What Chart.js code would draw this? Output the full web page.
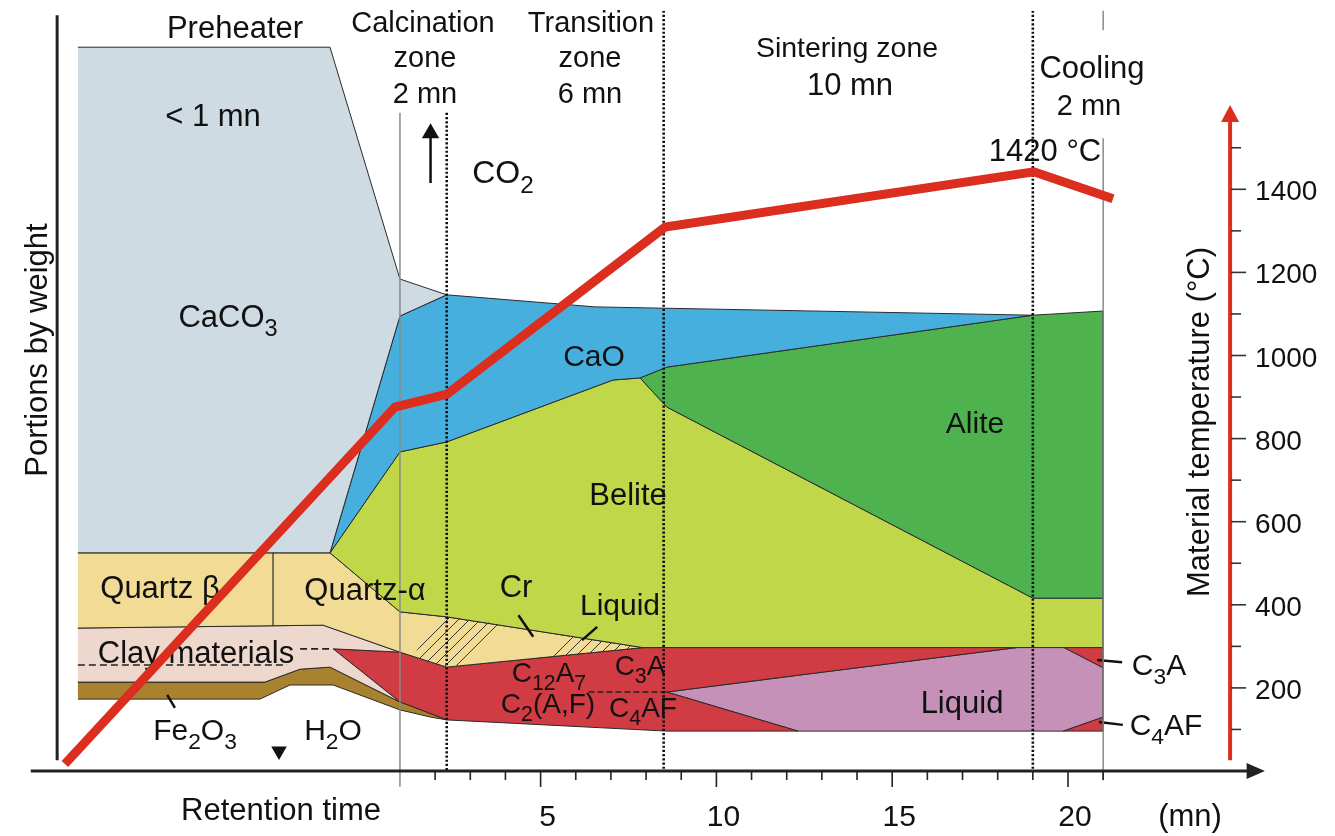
<!DOCTYPE html>
<html>
<head>
<meta charset="utf-8">
<script src="https://cdn.jsdelivr.net/npm/chart.js@4.4.0/dist/chart.umd.min.js"></script>
<style>
  html, body { margin: 0; padding: 0; background: #fff; }
</style>
</head>
<body>
<canvas id="myChart" width="1335" height="836"></canvas>
<script>
// time in minutes, vertical values in °C (areas use the same scale as the temperature axis)
var zoneLines = [2.33, 8.5, 19];
var zoneTops = [1584, 1830, 1830];
var timeTicks = [5, 10, 15, 20];
var tempTicks = [200, 400, 600, 800, 1000, 1200, 1400];

var tempTime = [-8.53, 0.86, 2.34, 8.54, 19.03, 21.28];
var tempValue = [17, 876, 907, 1309, 1442, 1377];

// phase areas, outline points [time, level]
var caco3 = [[-8.16, 1742], [-0.99, 1742], [1, 1184], [2.33, 1146], [1, 1095], [-0.99, 525], [-8.16, 525]];
var cao = [[-0.99, 525], [1, 1095], [2.33, 1146], [6.55, 1117], [19, 1097], [8.59, 972], [7.83, 946], [7.06, 941], [2.33, 792], [1, 768], [-0.99, 525]];
var alite = [[7.83, 946], [8.59, 972], [19, 1097], [21, 1107], [21, 416], [19, 416], [8.59, 876], [7.83, 946]];
var belite = [[-0.99, 525], [1, 768], [2.33, 792], [7.06, 941], [7.83, 946], [8.59, 876], [19, 416], [21, 416], [21, 297], [7.91, 297], [2.33, 371], [1, 383], [-0.99, 525]];
var quartz = [[-8.16, 525], [-0.99, 525], [1, 383], [2.33, 371], [7.91, 297], [2.33, 250], [1, 286], [-1.19, 351], [-8.16, 344]];
var clay = [[-8.16, 344], [-1.19, 351], [1, 286], [-0.9, 294], [1, 166], [-0.99, 250], [-1.84, 245], [-2.84, 214], [-8.16, 214]];
var fe2o3 = [[-8.16, 214], [-2.84, 214], [-1.84, 245], [-0.99, 250], [1, 166], [2.33, 123], [1.86, 130], [1, 147], [-0.9, 207], [-2.13, 207], [-2.98, 173], [-8.16, 173]];
var aluminates = [[-0.9, 294], [1, 286], [2.33, 250], [7.91, 297], [18.63, 298], [12.38, 231], [8.59, 190], [12.32, 96], [8.59, 96], [2.33, 123], [1, 166], [-0.9, 294]];
var liquid = [[8.59, 190], [12.38, 231], [18.63, 298], [19.86, 298], [21, 248], [21, 130], [19.86, 96], [12.32, 96], [8.59, 190]];
var c3aEnd = [[19.86, 298], [21, 297], [21, 248], [19.86, 298]];
var c4afEnd = [[19.86, 96], [21, 130], [21, 96], [19.86, 96]];
var crHatch1 = [[1.37, 277], [2.14, 373], [3.85, 354], [2.77, 255], [2.33, 250]];
var crHatch2 = [[5.27, 274], [5.84, 323], [7.91, 297]];

// thin lines
var quartzSplit = [[-2.61, 525], [-2.61, 349]];
var clayDash = [[-8.16, 255], [-2.21, 255]];
var clayDash2 = [[-1.84, 294], [-0.9, 294]];
var c12Dash = [[6.36, 190], [8.59, 190]];
var crLeader = [[4.37, 375], [4.79, 323]];
var liqLeader = [[6.61, 347], [6.18, 315]];
var c3aLeader = [[20.83, 267], [21.54, 262]];
var c4afLeader = [[20.88, 118], [21.56, 111]];
var feLeader = [[-5.62, 183], [-5.4, 152]];
var co2Shaft = [[1.87, 1415], [1.87, 1525]];
var co2Head = [[1.87, 1535]];
var h2oHead = [[-2.44, 48]];

function pts(arr) {
  return arr.map(function (p) { return p === null ? { x: null, y: null } : { x: p[0], y: p[1] }; });
}

function area(label, pairs, color) {
  return {
    label: label, data: pts(pairs), fill: "shape", backgroundColor: color,
    borderColor: "#2a2a2a", borderWidth: 1, pointRadius: 0, order: 5,
  };
}

function line(label, pairs, color, width, dash, order) {
  return {
    label: label, data: pts(pairs), fill: false, borderColor: color, borderWidth: width,
    borderDash: dash || [], pointRadius: 0, order: order || 3, borderCapStyle: "butt",
  };
}

function hatchPattern() {
  var c = document.createElement("canvas");
  c.width = 11; c.height = 11;
  var g = c.getContext("2d");
  g.strokeStyle = "#333"; g.lineWidth = 1;
  g.beginPath();
  g.moveTo(0, 11); g.lineTo(11, 0);
  g.moveTo(-2, 2); g.lineTo(2, -2);
  g.moveTo(9, 13); g.lineTo(13, 9);
  g.stroke();
  return g.createPattern(c, "repeat");
}

var datasets = [];
datasets.push({
  label: "Material temperature",
  data: tempTime.map(function (t, i) { return { x: t, y: tempValue[i] }; }),
  fill: false, borderColor: "#dc2e1f", borderWidth: 9, pointRadius: 0,
  borderJoinStyle: "miter", borderCapStyle: "butt", order: 0,
});

zoneLines.forEach(function (t, i) {
  datasets.push(line("zone", [[t, zoneTops[i]], [t, 0]], "#111", 2.6, [2.2, 2], 2));
});
datasets.push(Object.assign(line("start", [[1, 1584], [1, -38]], "#8a8a8a", 1.5, null, 2), { clip: false }));
datasets.push(Object.assign(line("end", [[21, 1830], [21, 1783], null, [21, 1523], [21, -22]], "#8a8a8a", 1.5, null, 2), { clip: false, spanGaps: false }));

datasets.push(line("quartz split", quartzSplit, "#2a2a2a", 1.2));
datasets.push(line("clay dash", clayDash, "#222", 1.6, [7, 4]));
datasets.push(line("clay dash 2", clayDash2, "#222", 1.6, [7, 4]));
datasets.push(line("c12 dash", c12Dash, "#222", 1.6, [6, 3]));
datasets.push(line("cr leader", crLeader, "#111", 2.5));
datasets.push(line("liquid leader", liqLeader, "#111", 2.5));
datasets.push(line("c3a leader", c3aLeader, "#111", 2.5));
datasets.push(line("c4af leader", c4afLeader, "#111", 2.5));
datasets.push(line("fe leader", feLeader, "#111", 2.5));
datasets.push(line("co2 shaft", co2Shaft, "#111", 2.5));
datasets.push({ label: "co2 head", data: pts(co2Head), showLine: false, pointStyle: "triangle", pointRadius: 10, pointBorderWidth: 0, pointBackgroundColor: "#111", order: 3 });
datasets.push({ label: "h2o head", data: pts(h2oHead), showLine: false, pointStyle: "triangle", pointRadius: 9, pointRotation: 180, pointBorderWidth: 0, pointBackgroundColor: "#111", order: 3 });

var pat = hatchPattern();
datasets.push({ label: "cr hatch", data: pts(crHatch1), fill: "shape", backgroundColor: pat, borderWidth: 0, pointRadius: 0, order: 4 });
datasets.push({ label: "liquid hatch", data: pts(crHatch2), fill: "shape", backgroundColor: pat, borderWidth: 0, pointRadius: 0, order: 4 });

datasets.push(area("CaCO3", caco3, "#cfdbe2"));
datasets.push(area("CaO", cao, "#47afde"));
datasets.push(area("Alite", alite, "#4eb34f"));
datasets.push(area("Belite", belite, "#c0d749"));
datasets.push(area("Quartz", quartz, "#f2dc95"));
datasets.push(area("Clay materials", clay, "#eed8cd"));
datasets.push(area("Fe2O3", fe2o3, "#a98230"));
datasets.push(area("Aluminates", aluminates, "#d13b44"));
datasets.push(area("Liquid", liquid, "#c691b8"));
datasets.push(area("C3A", c3aEnd, "#d13b44"));
datasets.push(area("C4AF", c4afEnd, "#d13b44"));

// texts: [parts, centre x, baseline, size]; part [text, subscript]
var notes = [
  [[["Preheater"]], 235, 38, 31],
  [[["< 1 mn"]], 213, 126, 31],
  [[["Calcination"]], 423, 32, 29],
  [[["zone"]], 425, 67, 29],
  [[["2 mn"]], 425, 103, 29],
  [[["Transition"]], 591, 32, 29],
  [[["zone"]], 590, 67, 29],
  [[["6 mn"]], 590, 103, 29],
  [[["Sintering zone"]], 847, 57, 28.5],
  [[["10 mn"]], 850, 95, 31],
  [[["Cooling"]], 1092, 78, 31],
  [[["2 mn"]], 1089, 115, 29],
  [[["1420 °C"]], 1045, 161, 31],
  [[["CO"], ["2", 1]], 503, 183, 32],
  [[["CaCO"], ["3", 1]], 228, 327, 31],
  [[["CaO"]], 594, 366, 30],
  [[["Belite"]], 628, 505, 31],
  [[["Alite"]], 975, 433, 30],
  [[["Quartz β"]], 160, 598, 31],
  [[["Quartz-α"]], 365, 600, 31],
  [[["Cr"]], 516, 597, 31],
  [[["Liquid"]], 620, 615, 30],
  [[["Clay materials"]], 196, 663, 31],
  [[["C"], ["12", 1], ["A"], ["7", 1]], 549, 682, 28],
  [[["C"], ["3", 1], ["A"]], 640, 675, 28],
  [[["C"], ["2", 1], ["(A,F)"]], 548, 713, 28],
  [[["C"], ["4", 1], ["AF"]], 643, 717, 28],
  [[["Liquid"]], 962, 713, 31],
  [[["C"], ["3", 1], ["A"]], 1159, 675, 30],
  [[["C"], ["4", 1], ["AF"]], 1166, 735, 30],
  [[["Fe"], ["2", 1], ["O"], ["3", 1]], 195, 740, 30],
  [[["H"], ["2", 1], ["O"]], 333, 740, 30],
  [[["Retention time"]], 281, 820, 31],
  [[["(mn)"]], 1190, 826, 31],
];

function fontOf(s) { return s + 'px "Liberation Sans", Arial, sans-serif'; }

function drawRich(ctx, parts, cx, base, size) {
  var w = 0;
  parts.forEach(function (p) {
    ctx.font = fontOf(p[1] ? size * 0.76 : size);
    w += ctx.measureText(p[0]).width;
  });
  var x = cx - w / 2;
  ctx.textAlign = "left";
  ctx.textBaseline = "alphabetic";
  parts.forEach(function (p) {
    ctx.font = fontOf(p[1] ? size * 0.76 : size);
    ctx.fillText(p[0], x, p[1] ? base + size * 0.3 : base);
    x += ctx.measureText(p[0]).width;
  });
}

var decor = {
  id: "decor",
  beforeDatasetDraw: function (chart, args) {
    if (chart.data.datasets[args.index].label !== "Material temperature") return;
    var ctx = chart.ctx;
    var xs = chart.scales.x, ys = chart.scales.y;
    var X = function (v) { return xs.getPixelForValue(v); };
    var Y = function (v) { return ys.getPixelForValue(v); };
    ctx.save();

    // portions axis
    ctx.strokeStyle = "#222";
    ctx.lineWidth = 3;
    ctx.beginPath();
    ctx.moveTo(X(-8.75), Y(1819));
    ctx.lineTo(X(-8.75), Y(26));
    ctx.stroke();

    // time axis
    var y0 = Y(0);
    ctx.beginPath();
    ctx.moveTo(X(-9.5), y0);
    ctx.lineTo(X(25.2), y0);
    ctx.stroke();
    ctx.fillStyle = "#222";
    ctx.beginPath();
    ctx.moveTo(X(25.6), y0);
    ctx.lineTo(X(25.08), y0 - 8);
    ctx.lineTo(X(25.08), y0 + 8);
    ctx.closePath();
    ctx.fill();
    ctx.lineWidth = 1.6;
    for (var m = 2; m <= 21; m++) {
      var major = timeTicks.indexOf(m) >= 0;
      ctx.beginPath();
      ctx.moveTo(X(m), y0);
      ctx.lineTo(X(m), y0 + (major ? 16 : 9));
      ctx.stroke();
    }
    ctx.fillStyle = "#111";
    timeTicks.forEach(function (m) {
      drawRich(ctx, [[String(m)]], X(m) + 7, 826, 30);
    });

    // temperature axis
    var ax = X(24.61);
    ctx.strokeStyle = "#dc2e1f";
    ctx.lineWidth = 4;
    ctx.beginPath();
    ctx.moveTo(ax, Y(26));
    ctx.lineTo(ax, Y(1564));
    ctx.stroke();
    ctx.fillStyle = "#dc2e1f";
    ctx.beginPath();
    ctx.moveTo(ax, Y(1603));
    ctx.lineTo(ax - 9, Y(1562));
    ctx.lineTo(ax + 9, Y(1562));
    ctx.closePath();
    ctx.fill();
    ctx.strokeStyle = "#333";
    ctx.lineWidth = 1.6;
    for (var t = 100; t <= 1500; t += 100) {
      var big = tempTicks.indexOf(t) >= 0;
      ctx.beginPath();
      ctx.moveTo(ax + 1, Y(t));
      ctx.lineTo(ax + (big ? 16 : 11), Y(t));
      ctx.stroke();
    }
    ctx.fillStyle = "#111";
    ctx.font = fontOf(28);
    ctx.textAlign = "left";
    tempTicks.forEach(function (t) {
      ctx.fillText(String(t), ax + 25, Y(t) + 11);
    });

    // axis titles
    ctx.save();
    ctx.translate(36, 350);
    ctx.rotate(-Math.PI / 2);
    drawRich(ctx, [["Portions by weight"]], 0, 11, 31);
    ctx.restore();
    ctx.save();
    ctx.translate(1198, 422);
    ctx.rotate(-Math.PI / 2);
    drawRich(ctx, [["Material temperature (°C)"]], 0, 11, 31);
    ctx.restore();

    notes.forEach(function (n) {
      drawRich(ctx, n[0], n[1], n[2], n[3]);
    });
    ctx.restore();
  },
};

var AREA_TOP = 771 - 1830 * 0.4155;

new Chart(document.getElementById("myChart"), {
  type: "line",
  data: { datasets: datasets },
  options: {
    responsive: false,
    animation: false,
    layout: { autoPadding: false, padding: { left: 0, right: 0, top: AREA_TOP, bottom: 836 - 771 } },
    elements: { line: { tension: 0 } },
    plugins: { legend: { display: false }, tooltip: { enabled: false } },
    scales: {
      x: { type: "linear", min: -364.8 / 35.16, max: (1335 - 364.8) / 35.16, display: false },
      y: { type: "linear", min: 0, max: 1830, display: false },
    },
  },
  plugins: [decor],
});
</script>
</body>
</html>
